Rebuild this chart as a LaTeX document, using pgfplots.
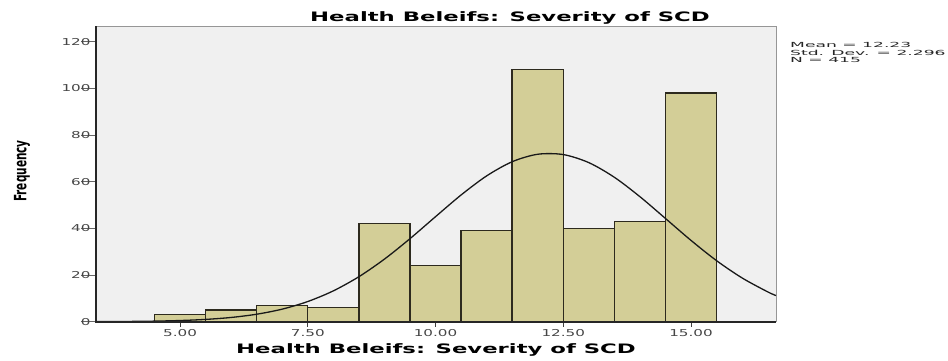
\documentclass[border=0pt]{standalone}
\usepackage{pgfplots}
\pgfplotsset{compat=1.18}
\usepackage{fontspec}
\setmainfont{DejaVu Sans}
\newfontfamily\tickfont[FakeStretch=1.6]{DejaVu Sans}
\newfontfamily\titlefont[FakeStretch=1.75]{DejaVu Sans}
\newfontfamily\statfont[FakeStretch=2.45]{DejaVu Sans}
\newfontfamily\ylabfont[FakeStretch=0.62]{DejaVu Sans}
\definecolor{bg}{RGB}{240,240,240}
\definecolor{barfill}{RGB}{211,206,151}
\definecolor{baredge}{RGB}{45,42,30}
\definecolor{frame}{RGB}{150,150,150}
\definecolor{ticktext}{RGB}{70,70,70}
\begin{document}
\begin{tikzpicture}[x=1pt,y=1pt]
\useasboundingbox (0,0) rectangle (948,360);
\begin{axis}[
  name=ax,
  at={(96pt,38.3pt)}, anchor=south west,
  width=680pt, height=295.7pt, scale only axis,
  xmin=3.356, xmax=16.663, ymin=0, ymax=126.7,
  axis background/.style={fill=bg},
  axis line style={draw=frame, line width=0.8pt},
  xtick={5,7.5,10,12.5,15},
  xticklabels={5.00,7.50,10.00,12.50,15.00},
  ytick={0,20,40,60,80,100,120},
  yticklabels={0,20,40,60,80,100,120},
  tick pos=left, tick align=outside,
  x tick style={draw=black!75, line width=0.8pt, /pgfplots/major tick length=5pt},
  y tick style={draw=black!60, line width=0.8pt, /pgfplots/major tick length=15pt},
  ticklabel style={font=\tickfont\fontsize{9.5}{11}\selectfont, text=ticktext},
  yticklabel style={inner sep=1pt},
]
\addplot[ybar, bar width=1, fill=barfill, draw=baredge, line width=1.4pt]
  coordinates {(5,3) (6,5) (7,7) (8,6) (9,42) (10,24) (11,39) (12,108) (13,40) (14,43) (15,98)};
\addplot[smooth, black!90, line width=1.3pt, mark=none] coordinates {
(3.36,0.041) (3.5,0.052) (4.0,0.117) (4.5,0.249) (5.0,0.507) (5.5,0.982)
(6.0,1.817) (6.5,3.202) (7.0,5.387) (7.5,8.64) (8.0,13.21) (8.5,19.27)
(9.0,26.81) (9.5,35.57) (10.0,45.00) (10.5,54.29) (11.0,62.47) (11.5,68.55)
(12.0,71.75) (12.5,71.61) (13.0,68.16) (13.5,61.88) (14.0,53.57)
(14.5,44.23) (15.0,34.83) (15.5,26.15) (16.0,18.74) (16.5,12.79) (16.663,11.21)};
\end{axis}
\draw[black!85, line width=1.6pt] (ax.north west) -- (ax.south west) -- (ax.south east);
\node[anchor=base, inner sep=0, font=\titlefont\bfseries\fontsize{13}{15}\selectfont] at (510,338.5) {Health Beleifs: Severity of SCD};
\node[anchor=base, inner sep=0, font=\titlefont\bfseries\fontsize{13}{15}\selectfont] at (436,7) {Health Beleifs: Severity of SCD};
\node[rotate=90, inner sep=0, font=\ylabfont\bfseries\fontsize{17}{19}\selectfont] at (22,189) {Frequency};
\node[anchor=base west, inner sep=0, font=\statfont\fontsize{7}{7.5}\selectfont, text=black!85] at (790,312.5) {Mean = 12.23};
\node[anchor=base west, inner sep=0, font=\statfont\fontsize{7}{7.5}\selectfont, text=black!85] at (790,305) {Std. Dev. = 2.296};
\node[anchor=base west, inner sep=0, font=\statfont\fontsize{7}{7.5}\selectfont, text=black!85] at (790,297.5) {N = 415};
\end{tikzpicture}
\end{document}
